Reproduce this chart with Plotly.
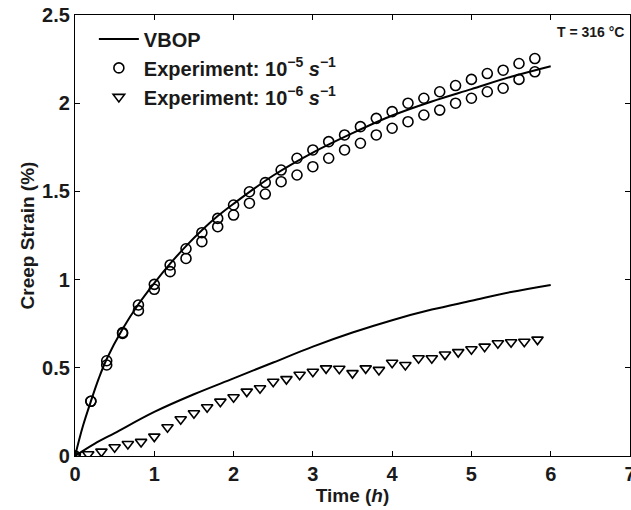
import plotly.graph_objects as go

# VBOP model curves
vbop5_t = [0, 0.1, 0.2, 0.3, 0.4, 0.6, 0.8, 1.0, 1.2, 1.4, 1.6, 1.8, 2.0, 2.5, 3.0, 3.5, 4.0, 4.5, 5.0, 5.5, 6.0]
vbop5_y = [0, 0.17, 0.31, 0.44, 0.55, 0.72, 0.86, 0.98, 1.09, 1.19, 1.28, 1.36, 1.43, 1.59, 1.72, 1.83, 1.93, 2.01, 2.08, 2.15, 2.21]

vbop6_t = [0, 0.25, 0.5, 1.0, 1.5, 2.0, 2.5, 3.0, 3.5, 4.0, 4.5, 5.0, 5.5, 6.0]
vbop6_y = [0, 0.07, 0.13, 0.25, 0.35, 0.44, 0.53, 0.62, 0.70, 0.77, 0.83, 0.88, 0.93, 0.97]

# Experiment 1e-5 /s (two test runs)
exp5_t = [0, 0.2, 0.4, 0.6, 0.8, 1.0, 1.2, 1.4, 1.6, 1.8, 2.0, 2.2, 2.4, 2.6, 2.8,
          3.0, 3.2, 3.4, 3.6, 3.8, 4.0, 4.2, 4.4, 4.6, 4.8, 5.0, 5.2, 5.4, 5.6, 5.8]
exp5_a = [0, 0.31, 0.54, 0.70, 0.856, 0.973, 1.083, 1.175, 1.266, 1.347, 1.423, 1.498, 1.55, 1.621, 1.688,
          1.735, 1.782, 1.82, 1.867, 1.914, 1.952, 2.0, 2.028, 2.065, 2.10, 2.135, 2.168, 2.187, 2.225, 2.253]
exp5_b = [0, 0.31, 0.516, 0.695, 0.824, 0.945, 1.045, 1.12, 1.215, 1.30, 1.366, 1.433, 1.485, 1.555, 1.593,
          1.64, 1.688, 1.735, 1.773, 1.82, 1.858, 1.895, 1.933, 1.961, 2.0, 2.028, 2.065, 2.085, 2.135, 2.178]

# Experiment 1e-6 /s (every 10 min)
exp6_t = [k / 6 for k in range(36)]
exp6_y = [0, 0.01, 0.025, 0.05, 0.068, 0.08, 0.11, 0.163, 0.208, 0.242, 0.276, 0.308, 0.333, 0.365,
          0.384, 0.421, 0.436, 0.461, 0.478, 0.497, 0.495, 0.47, 0.497, 0.488, 0.529, 0.516, 0.554,
          0.554, 0.575, 0.589, 0.605, 0.62, 0.639, 0.645, 0.648, 0.66]

x_ticks = [0, 1, 2, 3, 4, 5, 6, 7]
y_ticks = [0, 0.5, 1, 1.5, 2, 2.5]
y_tick_text = ["0", "0.5", "1", "1.5", "2", "2.5"]

FONT = "Liberation Sans, Arial, sans-serif"
INK = "#1a1a1a"

marker_common = dict(size=10, color="black", line=dict(width=1.6, color="black"))

fig = go.Figure()
fig.add_trace(go.Scatter(x=vbop5_t, y=vbop5_y, mode="lines", line=dict(color="black", width=2, shape="spline"),
                         name="VBOP", legendgroup="vbop"))
fig.add_trace(go.Scatter(x=vbop6_t, y=vbop6_y, mode="lines", line=dict(color="black", width=2, shape="spline"),
                         name="VBOP", legendgroup="vbop", showlegend=False))
fig.add_trace(go.Scatter(x=exp5_t, y=exp5_a, mode="markers",
                         marker=dict(symbol="circle-open", **marker_common),
                         name="Experiment: 10<sup>−5</sup> <i>s</i><sup>−1</sup>", legendgroup="e5"))
fig.add_trace(go.Scatter(x=exp5_t, y=exp5_b, mode="markers",
                         marker=dict(symbol="circle-open", **marker_common),
                         name="e5b", legendgroup="e5", showlegend=False))
fig.add_trace(go.Scatter(x=exp6_t, y=exp6_y, mode="markers",
                         marker=dict(symbol="triangle-down-open", **marker_common),
                         name="Experiment: 10<sup>−6</sup> <i>s</i><sup>−1</sup>", legendgroup="e6"))

fig.update_layout(
    width=631, height=510,
    margin=dict(l=75, r=1, t=15, b=54),
    paper_bgcolor="white", plot_bgcolor="white",
    font=dict(family=FONT, size=19, color=INK, weight="bold"),
    showlegend=True,
    legend=dict(x=0.034, y=0.99, xanchor="left", yanchor="top", bgcolor="rgba(0,0,0,0)",
                font=dict(family=FONT, size=20, color=INK, weight="bold"), tracegroupgap=0,
                itemwidth=40),
    annotations=[dict(text="T = 316 °C", x=0.992, y=0.985, xref="paper", yref="paper",
                      xanchor="right", yanchor="top", showarrow=False,
                      font=dict(family=FONT, size=14, color=INK, weight="bold"))],
)
fig.update_xaxes(range=[0, 7], tickvals=x_ticks, ticks="inside", ticklen=5, tickwidth=1.2, tickcolor="black",
                 showline=True, linecolor="black", linewidth=1.2, mirror="ticks", showgrid=False, zeroline=False,
                 ticklabeloverflow="allow", automargin=False,
                 title=dict(text="Time (<i>h</i>)", font=dict(size=19, weight="bold"), standoff=0),
                 tickfont=dict(size=20, weight="bold"))
fig.update_yaxes(range=[0, 2.5], tickvals=y_ticks, ticktext=y_tick_text, ticks="inside", ticklen=5, tickwidth=1.2,
                 tickcolor="black", showline=True, linecolor="black", linewidth=1.2, mirror="ticks",
                 showgrid=False, zeroline=False, ticklabeloverflow="allow", automargin=False,
                 title=dict(text="Creep Strain (%)", font=dict(size=19, weight="bold"), standoff=2),
                 tickfont=dict(size=20, weight="bold"))

fig.write_html("out.html")
